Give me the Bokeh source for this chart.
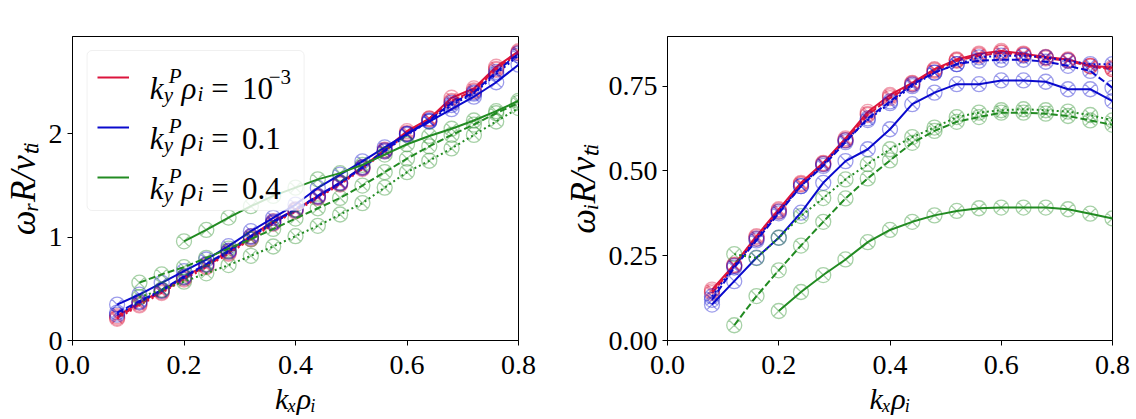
from bokeh.plotting import figure
from bokeh.models import Range1d, FixedTicker, Label, Legend, LegendItem, BoxAnnotation
from bokeh.layouts import row
from bokeh.embed import file_html
from bokeh.resources import INLINE

# ---------------- data ----------------
kx_all = [0.08, 0.12, 0.16, 0.20, 0.24, 0.28, 0.32, 0.36, 0.40, 0.44,
          0.48, 0.52, 0.56, 0.60, 0.64, 0.68, 0.72, 0.76, 0.80]
kx_from012 = [0.12, 0.16, 0.20, 0.24, 0.28, 0.32, 0.36, 0.40, 0.44,
              0.48, 0.52, 0.56, 0.60, 0.64, 0.68, 0.72, 0.76, 0.80]
kx_from020 = [0.20, 0.24, 0.28, 0.32, 0.36, 0.40, 0.44,
              0.48, 0.52, 0.56, 0.60, 0.64, 0.68, 0.72, 0.76, 0.80]

# real frequency omega_r R / v_Ti
wr_red_solid = [0.235, 0.365, 0.484, 0.613, 0.735, 0.865, 1.01, 1.155, 1.268, 1.397,
                1.526, 1.677, 1.848, 2.026, 2.148, 2.35, 2.44, 2.65, 2.80]
wr_red_dash = [0.22, 0.35, 0.47, 0.60, 0.72, 0.85, 0.99, 1.14, 1.26, 1.39,
               1.52, 1.67, 1.84, 2.01, 2.15, 2.32, 2.42, 2.63, 2.79]
wr_red_dot = [0.21, 0.34, 0.46, 0.59, 0.71, 0.84, 0.98, 1.13, 1.25, 1.38,
              1.51, 1.66, 1.83, 2.00, 2.14, 2.31, 2.41, 2.62, 2.78]
wr_blue_solid = [0.348, 0.445, 0.558, 0.671, 0.784, 0.913, 1.058, 1.187, 1.316, 1.477,
                 1.606, 1.735, 1.87, 2.00, 2.12, 2.24, 2.36, 2.50, 2.67]
wr_blue_dash = [0.27, 0.38, 0.49, 0.62, 0.74, 0.87, 1.01, 1.15, 1.27, 1.40,
                1.53, 1.68, 1.84, 2.00, 2.13, 2.30, 2.40, 2.60, 2.78]
wr_blue_dot = [0.25, 0.37, 0.48, 0.61, 0.73, 0.86, 1.00, 1.14, 1.26, 1.39,
               1.52, 1.67, 1.83, 1.99, 2.12, 2.28, 2.39, 2.58, 2.76]
wr_green_solid = [0.96, 1.07, 1.19, 1.30, 1.40, 1.48, 1.56, 1.62, 1.70, 1.80,
                  1.90, 1.98, 2.05, 2.13, 2.22, 2.32]
wr_green_dash = [0.56, 0.64, 0.71, 0.80, 0.89, 0.98, 1.08, 1.18, 1.28, 1.38,
                 1.50, 1.63, 1.76, 1.88, 1.99, 2.09, 2.20, 2.30]
wr_green_dot = [0.42, 0.49, 0.57, 0.65, 0.73, 0.82, 0.91, 1.01, 1.11, 1.22,
                1.33, 1.48, 1.63, 1.74, 1.86, 1.99, 2.12, 2.25]

# growth rate omega_i R / v_Ti
wi_red_solid = [0.15, 0.224, 0.308, 0.387, 0.465, 0.524, 0.596, 0.674, 0.724, 0.76,
                0.80, 0.829, 0.846, 0.854, 0.846, 0.836, 0.829, 0.81, 0.805]
wi_red_dash = [0.14, 0.22, 0.30, 0.38, 0.46, 0.52, 0.59, 0.665, 0.715, 0.755,
               0.795, 0.825, 0.84, 0.848, 0.842, 0.832, 0.825, 0.808, 0.80]
wi_red_dot = [0.145, 0.222, 0.305, 0.384, 0.462, 0.522, 0.592, 0.668, 0.72, 0.758,
              0.798, 0.827, 0.843, 0.85, 0.844, 0.835, 0.827, 0.81, 0.80]
wi_blue_solid = [0.106, 0.175, 0.244, 0.303, 0.377, 0.465, 0.529, 0.564, 0.623, 0.697,
                 0.731, 0.756, 0.756, 0.767, 0.767, 0.763, 0.741, 0.741, 0.706]
wi_blue_dash = [0.12, 0.215, 0.295, 0.375, 0.455, 0.515, 0.585, 0.655, 0.705, 0.755,
                0.79, 0.815, 0.825, 0.828, 0.828, 0.822, 0.81, 0.795, 0.745]
wi_blue_dot = [0.13, 0.22, 0.30, 0.38, 0.455, 0.52, 0.59, 0.65, 0.70, 0.75,
               0.79, 0.815, 0.835, 0.84, 0.84, 0.835, 0.825, 0.815, 0.815]
wi_green_solid = [0.087, 0.143, 0.193, 0.239, 0.29, 0.326, 0.35, 0.369, 0.382, 0.39,
                  0.392, 0.392, 0.392, 0.387, 0.374, 0.36]
wi_green_dash = [0.045, 0.131, 0.207, 0.28, 0.35, 0.419, 0.478, 0.531, 0.583, 0.618,
                 0.645, 0.659, 0.672, 0.672, 0.669, 0.662, 0.649, 0.636]
wi_green_dot = [0.255, 0.243, 0.303, 0.367, 0.42, 0.475, 0.52, 0.564, 0.60, 0.628,
                0.659, 0.672, 0.679, 0.682, 0.679, 0.675, 0.665, 0.649]

x_ticks = [0.0, 0.2, 0.4, 0.6, 0.8]
x_tick_labels = ["0.0", "0.2", "0.4", "0.6", "0.8"]
yr_ticks = [0, 1, 2]
yr_tick_labels = ["0", "1", "2"]
yi_ticks = [0.0, 0.25, 0.5, 0.75]
yi_tick_labels = ["0.00", "0.25", "0.50", "0.75"]
legend_values = ["10", "0.1", "0.4"]
x_label = "kₓρᵢ"
yr_label = "ωᵣR/vₜᵢ"
yi_label = "ωᵢR/vₜᵢ"

RED, BLUE, GREEN = "#dc143c", "#0a0acd", "#228b22"
DASH = {"solid": "solid", "dash": "7 3", "dot": "2 3"}
FONT = "Liberation Serif"

# ---------------- layout geometry (page pixels) ----------------
FRAME_W, FRAME_H, TOP, BOTTOM = 450, 304, 36, 78
YMAX_R, YMAX_I = 2.943, 0.8965


def make_fig(left, right, ymax, yticks, ylabels, ylabel):
    p = figure(width=left + FRAME_W + right, height=TOP + FRAME_H + BOTTOM,
               x_range=Range1d(0, 0.8), y_range=Range1d(0, ymax),
               output_backend="svg", toolbar_location=None,
               min_border_left=left, min_border_right=right,
               min_border_top=TOP, min_border_bottom=BOTTOM)
    p.grid.visible = False
    p.outline_line_color = "black"
    p.outline_line_width = 1
    p.background_fill_color = "white"
    p.border_fill_color = "white"
    p.xaxis.ticker = FixedTicker(ticks=x_ticks)
    p.xaxis.major_label_overrides = {t: s for t, s in zip(x_ticks, x_tick_labels)}
    p.yaxis.ticker = FixedTicker(ticks=yticks)
    p.yaxis.major_label_overrides = {t: s for t, s in zip(yticks, ylabels)}
    p.xaxis.axis_label = x_label
    p.yaxis.axis_label = ylabel
    for ax in (p.xaxis[0], p.yaxis[0]):
        ax.axis_line_color = "black"
        ax.major_tick_line_color = "black"
        ax.minor_tick_line_color = None
        ax.major_tick_out = 5
        ax.major_tick_in = 0
        ax.major_label_text_font = FONT
        ax.major_label_text_font_size = "28px"
        ax.major_label_text_color = "black"
        ax.axis_label_text_font = FONT
        ax.axis_label_text_font_style = "italic"
        ax.axis_label_text_color = "black"
    p.xaxis.axis_label_text_font_size = "30px"
    p.yaxis.axis_label_text_font_size = "35px"
    p.xaxis.major_label_standoff = 10
    p.yaxis.major_label_standoff = 5
    p.xaxis.axis_label_standoff = 5
    p.yaxis.axis_label_standoff = 3
    return p


p1 = make_fig(68, 42, YMAX_R, yr_ticks, yr_tick_labels, yr_label)
p2 = make_fig(102, 22, YMAX_I, yi_ticks, yi_tick_labels, yi_label)


def draw(p, series):
    solids = []
    for color, dash, xs, ys in series:
        r = p.line(xs, ys, line_color=color, line_width=2, line_dash=DASH[dash])
        p.scatter(xs, ys, marker="circle_x", size=15, fill_alpha=0,
                  line_color=color, line_alpha=0.4, line_width=1.3)
        if dash == "solid":
            solids.append(r)
    return solids


solid_r = draw(p1, [
    (RED, "solid", kx_all, wr_red_solid), (RED, "dash", kx_all, wr_red_dash), (RED, "dot", kx_all, wr_red_dot),
    (BLUE, "solid", kx_all, wr_blue_solid), (BLUE, "dash", kx_all, wr_blue_dash), (BLUE, "dot", kx_all, wr_blue_dot),
    (GREEN, "solid", kx_from020, wr_green_solid), (GREEN, "dash", kx_from012, wr_green_dash),
    (GREEN, "dot", kx_from012, wr_green_dot),
])
draw(p2, [
    (RED, "solid", kx_all, wi_red_solid), (RED, "dash", kx_all, wi_red_dash), (RED, "dot", kx_all, wi_red_dot),
    (BLUE, "solid", kx_all, wi_blue_solid), (BLUE, "dash", kx_all, wi_blue_dash), (BLUE, "dot", kx_all, wi_blue_dot),
    (GREEN, "solid", kx_from020, wi_green_solid), (GREEN, "dash", kx_from012, wi_green_dash),
    (GREEN, "dot", kx_from012, wi_green_dot),
])

# page-pixel -> data converters for legend text placement (p1 frame: x 68..518, y 36..340)
fx1 = lambda px: (px - 68) / FRAME_W * 0.8
fy1 = lambda py: (340 - py) / FRAME_H * YMAX_R


def txt(p, px, py, s, size, italic=True):
    p.add_layout(Label(x=fx1(px), y=fy1(py), text=s, text_font=FONT,
                       text_font_size=f"{size}px",
                       text_font_style="italic" if italic else "normal",
                       text_color="black", text_align="left",
                       text_baseline="alphabetic"))


# legend box + swatches
p1.add_layout(BoxAnnotation(left=fx1(82.7), right=fx1(301.7), top=fy1(50), bottom=fy1(210),
                            fill_color="white", fill_alpha=0.8, line_color="#cccccc",
                            line_width=1, border_radius=5))
legend = Legend(items=[LegendItem(label=" ", renderers=[r]) for r in solid_r],
                location=(25, 143), padding=0, margin=0, spacing=10,
                glyph_width=32, glyph_height=40, label_height=40, label_width=5,
                label_standoff=0, border_line_alpha=0, background_fill_alpha=0)
p1.add_layout(legend)
for i, val in enumerate(legend_values):
    base = 88 + 50 * i
    txt(p1, 146, base, "k", 31)
    txt(p1, 165, base - 13, "P", 21)
    txt(p1, 160, base + 6, "y", 21)
    txt(p1, 178, base, "ρ", 31)
    txt(p1, 194, base + 5, "i", 21)
    txt(p1, 208, base, "=", 31, italic=False)
    txt(p1, 239, base, val, 31, italic=False)
    if val == "10":
        txt(p1, 266, base - 12, "−3", 21, italic=False)

layout = row(p1, p2)
open("out.html", "w").write(file_html(layout, INLINE))
